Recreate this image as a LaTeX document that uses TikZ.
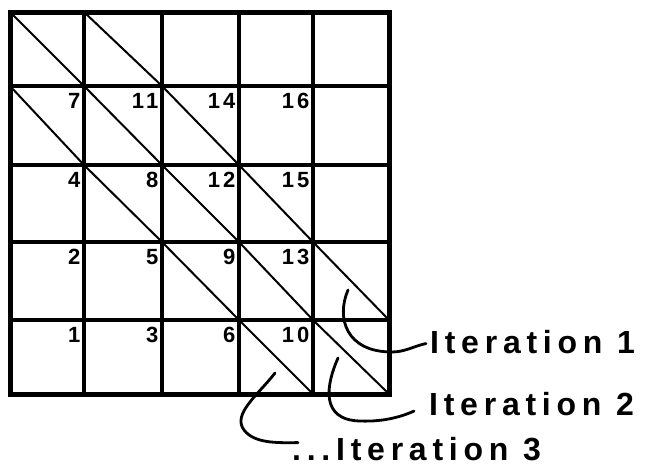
\documentclass[tikz,border=0pt]{standalone}
\usepackage{fontspec}
\setmainfont{Liberation Sans}
\newfontfamily\labfont[LetterSpace=18]{Liberation Sans}
\newfontfamily\numfont[LetterSpace=14]{Liberation Sans}
\begin{document}
\begin{tikzpicture}[x=1pt,y=-1pt,
  gridline/.style={line width=4.6pt,line cap=rect},
  border/.style={line width=5pt,line join=miter},
  diag/.style={line width=2pt},
  callout/.style={line width=2.8pt,line cap=round},
  num/.style={anchor=north east,inner sep=0pt,font=\numfont\bfseries\fontsize{22}{24}\selectfont},
  lab/.style={anchor=base west,inner sep=0pt,font=\labfont\bfseries\fontsize{32}{36}\selectfont}]
\useasboundingbox (0,0) rectangle (647,472);
\fill[white] (0,0) rectangle (647,472);
% grid corners
\foreach \x [count=\i from 0] in {10,84,162,239,313,389}{
  \foreach \y [count=\j from 0] in {12,86,165,242,320,394}{
    \coordinate (p\i-\j) at (\x,\y);
  }
}
% grid lines
\foreach \i in {1,...,4}{
  \draw[gridline] (p\i-0) -- (p\i-5);
  \draw[gridline] (p0-\i) -- (p5-\i);
}
\draw[border] (p0-0) rectangle (p5-5);
% diagonals
\draw[diag] (p0-0) -- (p1-1) -- (p2-2) -- (p3-3) -- (p4-4) -- (p5-5);
\draw[diag] (p1-0) -- (p2-1) -- (p3-2) -- (p4-3) -- (p5-4);
\draw[diag] (p0-1) -- (p1-2) -- (p2-3) -- (p3-4) -- (p4-5);
% numbers
\foreach \c/\r/\v in {1/1/7,2/1/11,3/1/14,4/1/16,
                      1/2/4,2/2/8,3/2/12,4/2/15,
                      1/3/2,2/3/5,3/3/9,4/3/13,
                      1/4/1,2/4/3,3/4/6,4/4/10}{
  \node[num,xshift=-3.5pt,yshift=-7pt] (n\v) at (p\c-\r) {\v};
}
% labels
\node[lab] (it1) at (430,353) {Iteration 1};
\node[lab] (it2) at (429,415) {Iteration 2};
\node[lab] (it3) at (292,460) {...Iteration 3};
% callout curves
\coordinate (s1) at (348,290);
\coordinate (s2) at (338,358);
\coordinate (s3) at (275,373);
\draw[callout] (s1) .. controls (336,318) and (346,352) .. (392,352)
  .. controls (405,352) and (414,346) .. ([shift={(-4pt,-2pt)}]it1.west);
\draw[callout] (s2) .. controls (326,385) and (320,420) .. (360,421)
  .. controls (385,422) and (403,416) .. ([shift={(-15pt,-7.5pt)}]it2.west);
\draw[callout] (s3) .. controls (258,395) and (232,414) .. (244,430)
  .. controls (254,443) and (275,443) .. ([shift={(6pt,6pt)}]it3.west);
\end{tikzpicture}
\end{document}
